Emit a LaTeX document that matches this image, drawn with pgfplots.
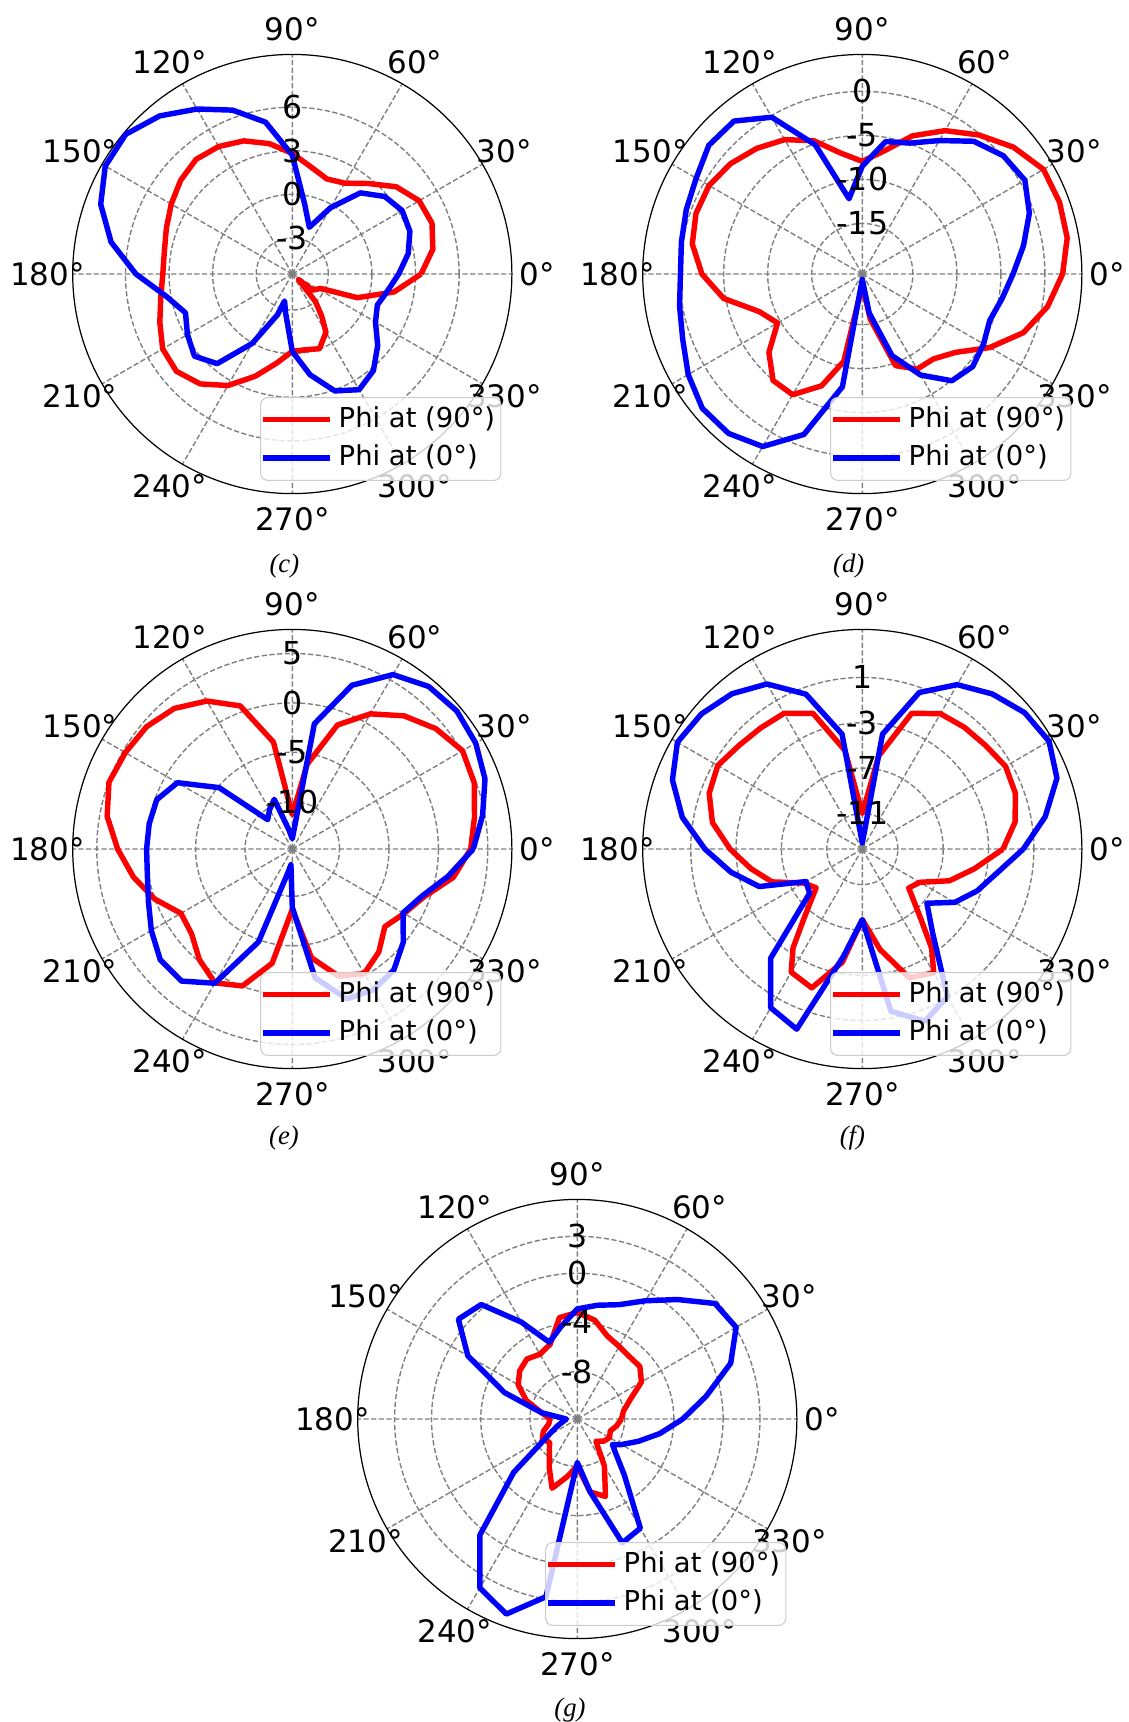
\documentclass[border=0pt]{standalone}
\usepackage{pgfplots}
\pgfplotsset{compat=1.18}
\usepgfplotslibrary{polar}
\usepackage{fontspec}
\setmainfont{DejaVu Sans}
\newfontfamily\capfont{Liberation Serif}
\definecolor{gridgray}{RGB}{128,128,128}
\pgfplotsset{
  phistyle/.style={
    width=4.392cm, height=4.392cm, scale only axis,
    anchor=center,
    xmin=0, xmax=360, ymin=0,
    xtick={0,30,...,330},
    xticklabels={}, yticklabels={},
    major tick length=0pt,
    xmajorgrids, ymajorgrids,
    major grid style={gridgray, line width=0.4pt, dash pattern=on 1.5pt off 0.7pt},
    axis line style={black, line width=0.35pt},
    y axis line style={draw=none},
    clip=false,
    legend style={at={(0.976,0.029)}, anchor=south east,
      font=\fontsize{7.8}{9}\selectfont,
      draw=black!20, line width=0.3pt, fill=white, fill opacity=0.8,
      text opacity=1, draw opacity=1, rounded corners=2pt,
      inner xsep=0pt, inner ysep=1pt, row sep=0.3pt,
      nodes={inner sep=1.6pt},
      cells={anchor=west}},
    legend image code/.code={\draw[#1] (0cm,0cm) -- (0.67cm,0cm);},
    every axis plot/.append style={line width=1.55pt, line join=round},
  },
}
\newcommand{\rlab}[2]{\node[font=\fontsize{9}{10}\selectfont, inner sep=0pt] at (axis cs:90,#1) {#2};}
\newcommand{\anglabels}[1]{%
  \pgfplotsinvokeforeach{0,30,...,330}{\node[font=\fontsize{8.8}{10}\selectfont, inner sep=0pt] at (axis cs:##1,#1) {##1°};}%
}
\begin{document}
\begin{tikzpicture}
\path[use as bounding box] (0,0) rectangle (11.29,-17.22);

% ---------------- (c) ----------------
\begin{scope}[shift={(2.923,-2.74)}]
\begin{polaraxis}[phistyle, ymax=15.11,
  ytick={2.48,5.48,8.48,11.48}, y filter/.expression={y+5.48}]
\addplot[red] coordinates {(0,3.38) (10,4.34) (20,4.75) (30,4.60) (40,3.86) (50,2.65) (60,1.74) (70,1.48) (80,1.99) (90,2.82) (100,3.63) (110,4.27) (120,4.65) (130,4.82) (140,4.55) (150,4.14) (160,3.74) (170,3.46) (180,3.43) (190,3.71) (200,4.22) (210,4.82) (220,4.93) (230,4.39) (240,3.38) (250,2.01) (260,0.75) (270,-0.16) (280,-0.19) (290,-0.01) (300,-0.85) (305,-1.96) (310,-3.00) (318,-4.90) (322,-3.68) (333,-3.30) (340,-0.72) (350,1.63) (360,3.38)};
\addlegendentry{Phi at (90°)}
\addplot[blue] coordinates {(0,1.84) (10,2.62) (20,3.13) (30,3.25) (40,2.82) (50,1.81) (60,-0.21) (70,-2.06) (80,-0.59) (90,2.70) (100,5.13) (110,6.52) (120,7.63) (130,8.72) (140,9.48) (150,9.38) (160,8.55) (170,7.18) (180,5.28) (190,3.33) (200,2.34) (210,2.85) (220,3.31) (230,2.57) (240,0.04) (250,-2.49) (254,-3.55) (260,-2.79) (270,-0.16) (280,1.56) (290,3.08) (300,3.71) (310,3.20) (320,2.19) (330,1.13) (340,0.75) (350,1.18) (360,1.84)};
\addlegendentry{Phi at (0°)}
\rlab{2.48}{-3}\rlab{5.48}{0}\rlab{8.48}{3}\rlab{11.48}{6}
\anglabels{16.85}
\end{polaraxis}
\end{scope}

% ---------------- (d) ----------------
\begin{scope}[shift={(8.623,-2.74)}]
\begin{polaraxis}[phistyle, ymax=24.95,
  ytick={5.75,10.75,15.75,20.75}, y filter/.expression={y+20.75}]
\addplot[red] coordinates {(0,2.01) (10,2.89) (20,3.10) (30,3.02) (40,1.67) (50,-0.13) (60,-1.94) (70,-4.04) (80,-6.56) (90,-7.95) (100,-6.81) (110,-4.63) (120,-3.12) (130,-2.11) (140,-1.23) (150,-0.64) (160,-0.64) (170,-1.14) (180,-2.53) (190,-4.76) (200,-8.28) (210,-9.63) (220,-6.90) (230,-4.97) (240,-4.92) (250,-7.23) (258,-10.6) (270,-19.5) (280,-15.55) (290,-9.67) (300,-8.28) (310,-8.16) (320,-6.90) (330,-4.04) (340,-1.27) (350,0.62) (360,2.01)};
\addlegendentry{Phi at (90°)}
\addplot[blue] coordinates {(0,-3.62) (10,-2.15) (20,-0.55) (30,0.58) (40,0.16) (50,-1.06) (60,-3.24) (70,-4.92) (80,-5.47) (90,-8.49) (100,-12.07) (110,-5.13) (120,-0.18) (130,1.93) (140,2.01) (150,1.04) (160,0.54) (170,0.12) (180,-0.09) (190,0.33) (200,0.96) (210,2.09) (220,2.98) (230,2.89) (240,1.88) (250,-1.35) (260,-7.74) (270,-20.13) (280,-16.27) (290,-10.89) (300,-7.49) (310,-4.92) (320,-4.38) (330,-4.84) (340,-5.34) (350,-4.63) (360,-3.62)};
\addlegendentry{Phi at (0°)}
\rlab{5.75}{-15}\rlab{10.75}{-10}\rlab{15.75}{-5}\rlab{20.75}{0}
\anglabels{27.82}
\end{polaraxis}
\end{scope}

% ---------------- (e) ----------------
\begin{scope}[shift={(2.923,-8.49)}]
\begin{polaraxis}[phistyle, ymax=22.23,
  ytick={4.79,9.79,14.79,19.79}, y filter/.expression={y+14.79}]
\addplot[red] coordinates {(0,3.27) (10,3.94) (20,4.81) (30,5.11) (40,4.17) (50,2.81) (60,1.01) (70,-1.43) (80,-6.06) (90,-11.32) (100,-3.80) (110,0.63) (120,2.51) (130,3.79) (140,4.47) (150,4.73) (160,4.96) (170,4.24) (180,2.89) (190,1.54) (200,0.03) (210,-1.77) (220,-1.47) (230,-0.16) (240,0.86) (250,-0.04) (260,-3.05) (270,-8.69) (280,-3.61) (290,-1.10) (300,-0.23) (310,-1.17) (320,-2.56) (330,-1.73) (340,-0.61) (350,1.76) (360,3.27)};
\addlegendentry{Phi at (90°)}
\addplot[blue] coordinates {(0,3.53) (10,4.77) (20,5.97) (30,6.65) (40,6.95) (50,6.69) (60,5.60) (70,2.85) (80,-1.92) (90,-13.76) (100,-12.82) (110,-9.44) (120,-10.19) (130,-10.91) (140,-5.12) (150,-1.36) (160,-0.19) (170,-0.08) (180,-0.04) (190,0.11) (200,0.71) (210,1.69) (220,2.66) (230,2.66) (240,0.90) (250,-4.78) (260,-12.45) (265,-13.20) (270,-8.88) (280,-1.55) (290,1.35) (300,1.65) (310,1.20) (320,-0.12) (330,-1.85) (340,-0.83) (350,1.20) (360,3.53)};
\addlegendentry{Phi at (0°)}
\rlab{4.79}{-10}\rlab{9.79}{-5}\rlab{14.79}{0}\rlab{19.79}{5}
\anglabels{24.79}
\end{polaraxis}
\end{scope}

% ---------------- (f) ----------------
\begin{scope}[shift={(8.623,-8.49)}]
\begin{polaraxis}[phistyle, ymax=19.38,
  ytick={3.14,7.14,11.14,15.14}, y filter/.expression={y+14.14}]
\addplot[red] coordinates {(0,-1.72) (10,-0.45) (20,0.24) (30,0.46) (40,0.07) (50,-0.12) (60,-0.35) (70,-1.39) (80,-5.79) (90,-11.00) (100,-5.30) (110,-1.39) (120,-0.32) (130,-0.19) (140,0.07) (150,0.59) (160,0.24) (170,-0.71) (180,-2.47) (190,-4.16) (200,-5.66) (210,-8.14) (220,-8.82) (230,-6.12) (235,-3.48) (240,-1.59) (250,-1.10) (260,-4.00) (270,-7.91) (280,-5.14) (290,-2.05) (300,-1.52) (305,-3.48) (310,-6.12) (320,-8.79) (330,-8.27) (340,-5.95) (350,-4.10) (360,-1.72)};
\addlegendentry{Phi at (90°)}
\addplot[blue] coordinates {(0,0.07) (10,2.25) (20,4.14) (30,4.89) (40,4.57) (50,3.72) (60,2.61) (70,0.56) (80,-3.84) (90,-13.61) (100,-3.84) (110,0.40) (120,2.68) (130,3.75) (140,4.40) (150,4.70) (160,3.69) (170,1.99) (180,-0.25) (190,-2.37) (200,-4.46) (210,-8.40) (220,-8.07) (230,-1.56) (240,2.03) (250,2.78) (260,-4.50) (270,-7.91) (280,0.40) (290,2.03) (300,0.89) (310,-4.49) (320,-6.70) (330,-4.72) (340,-3.35) (350,-2.05) (360,0.07)};
\addlegendentry{Phi at (0°)}
\rlab{3.14}{-11}\rlab{7.14}{-7}\rlab{11.14}{-3}\rlab{15.14}{1}
\anglabels{21.61}
\end{polaraxis}
\end{scope}

% ---------------- (g) ----------------
\begin{scope}[shift={(5.773,-14.19)}]
\begin{polaraxis}[phistyle, ymax=17.85,
  ytick={3.85,7.85,11.85,14.85}, y filter/.expression={y+11.85}]
\addplot[red] coordinates {(0,-8.26) (10,-8.03) (20,-7.29) (30,-5.83) (40,-5.21) (50,-5.24) (60,-5.04) (70,-4.68) (80,-3.69) (90,-3.19) (100,-3.48) (110,-5.39) (120,-5.77) (130,-5.48) (140,-5.74) (150,-6.30) (160,-7.44) (170,-8.91) (180,-9.64) (190,-9.49) (200,-8.91) (210,-8.56) (220,-8.91) (230,-8.32) (240,-7.29) (250,-5.86) (260,-7.09) (270,-8.03) (280,-5.83) (290,-5.15) (300,-7.44) (310,-9.49) (320,-9.05) (330,-8.82) (340,-9.00) (350,-8.61) (360,-8.26)};
\addlegendentry{Phi at (90°)}
\addplot[blue] coordinates {(0,-3.28) (10,-1.22) (20,1.42) (30,3.06) (40,2.76) (50,0.83) (60,-0.75) (70,-1.96) (80,-2.46) (90,-2.90) (100,-4.22) (110,-5.21) (120,-2.75) (130,0.30) (140,0.77) (150,-1.58) (160,-5.54) (170,-8.91) (180,-10.96) (190,-10.67) (200,-10.08) (210,-9.05) (220,-5.10) (230,0.48) (240,4.00) (250,5.02) (260,2.82) (270,-8.32) (280,-5.83) (290,-1.14) (300,-1.60) (310,-5.90) (320,-7.90) (324,-8.32) (330,-7.70) (340,-6.56) (350,-5.04) (360,-3.28)};
\addlegendentry{Phi at (0°)}
\rlab{3.85}{-8}\rlab{7.85}{-4}\rlab{11.85}{0}\rlab{14.85}{3}
\anglabels{19.90}
\end{polaraxis}
\end{scope}

% captions
\begin{scope}[every node/.style={font=\capfont\itshape\fontsize{7.6}{8}\selectfont}]
\node at (2.844,-5.657) {(c)};
\node at (8.488,-5.657) {(d)};
\node at (2.840,-11.38) {(e)};
\node at (8.524,-11.38) {(f)};
\node at (5.700,-17.10) {(g)};
\end{scope}
\end{tikzpicture}
\end{document}
